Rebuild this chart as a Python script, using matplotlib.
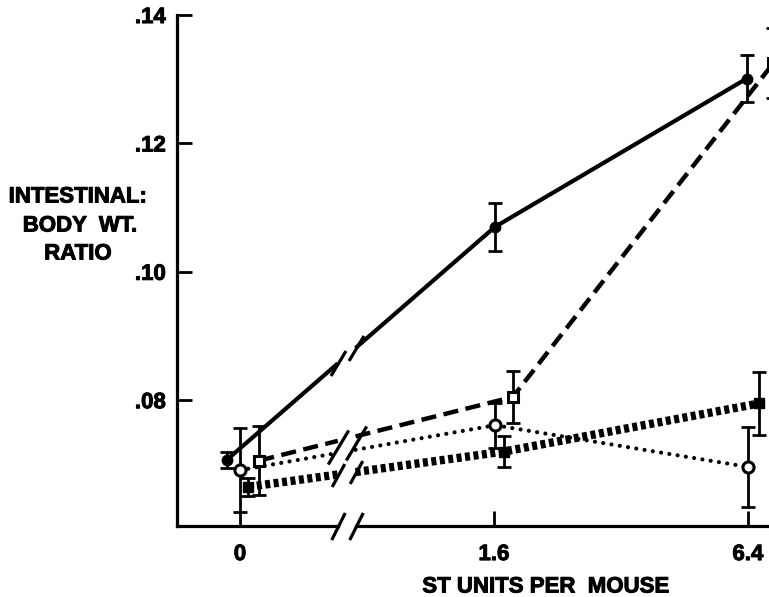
import numpy as np
import matplotlib
matplotlib.use("Agg")
from matplotlib import pyplot as plt
from matplotlib.path import Path
import matplotlib.patheffects as pe

plt.rcParams['font.family'] = ['Liberation Sans', 'DejaVu Sans']
plt.rcParams['font.weight'] = 'bold'

# dose axis: 0, 1.6, 6.4 ST units, drawn evenly spaced with a break after 0
dose_labels = ['0', '1.6', '6.4']
dose_pos = [0, 1, 2]

# each group is nudged a little sideways in the original so the bars don't overlap
solid_x = [-0.052, 1.004, 1.995]
solid_y = [0.0707, 0.1070, 0.1301]
solid_err = [0.0013, 0.0037, 0.0037]

dash_x = [0.076, 1.074, 2.1]
dash_y = [0.0706, 0.0805, 0.1325]
dash_err = [0.0054, 0.0041, 0.0055]

dot_x = [0.0, 1.004, 2.001]
dot_y = [0.0691, 0.0761, 0.0696]
dot_err = [0.0065, 0.0035, 0.0063]

thick_x = [0.033, 1.039, 2.045]
thick_y = [0.0665, 0.0720, 0.0795]
thick_err = [0.0014, 0.0024, 0.0049]

y_ticks = [0.08, 0.10, 0.12, 0.14]
y_ticklabels = ['.08', '.10', '.12', '.14']

GAP = (0.385, 0.455)
YMIN, YMAX = 0.0604, 0.14
FS = 16
ink = [pe.withStroke(linewidth=0.7, foreground='k')]

fig = plt.figure(figsize=(7.69, 5.97), dpi=100)
ax = fig.add_axes([0.2302, 0.1189, 0.7698, 0.8559])
ax.set_xlim(-0.248, 2.083)
ax.set_ylim(YMIN, YMAX)


def broken(x, y, **kw):
    x = np.asarray(x)
    y = np.asarray(y)
    y0 = np.interp(GAP[0], x, y)
    y1 = np.interp(GAP[1], x, y)
    ax.plot([x[0], GAP[0]], [y[0], y0], **kw)
    ax.plot(np.r_[GAP[1], x[1:]], np.r_[y1, y[1:]], **kw)
    return y0, y1


def slash(w):
    return Path([(-w, -1), (w, 1)], [Path.MOVETO, Path.LINETO])


def slashes(ys, size, w=0.6, **kw):
    ax.plot(GAP, ys, ls='none', marker=slash(w), ms=size, mew=2.3,
            mfc='none', mec='k', **kw)


err_kw = dict(fmt='none', ecolor='k', elinewidth=2, capsize=5, capthick=2, zorder=3)
ax.errorbar(solid_x, solid_y, yerr=solid_err, **err_kw)
ax.errorbar(dash_x, dash_y, yerr=dash_err, **err_kw)
ax.errorbar(dot_x, dot_y, yerr=dot_err, **err_kw)
ax.errorbar(thick_x, thick_y, yerr=thick_err, **err_kw)

s0, s1 = broken(solid_x, solid_y, color='k', lw=3, solid_capstyle='butt')
d0, d1 = broken(dash_x, dash_y, color='k', lw=3.2, ls=(0, (3.4, 1.7)), dash_capstyle='butt')
o0, o1 = broken(dot_x, dot_y, color='k', lw=3, ls=(0, (0.01, 2.0)), dash_capstyle='round')
t0, t1 = broken(thick_x, thick_y, color='k', lw=6, ls=(0, (0.6, 0.42)), dash_capstyle='butt')

slashes([s0, s1], 18)
slashes([(d0 + o0) / 2, (d1 + o1) / 2], 24.5)
slashes([t0, t1], 16.5, w=0.55)

ax.plot(solid_x, solid_y, 'o', color='k', ms=7.5, zorder=4)
ax.plot(dash_x, dash_y, 's', mfc='white', mec='k', mew=2.2, ms=7.5, zorder=4)
ax.plot(dot_x, dot_y, 'o', mfc='white', mec='k', mew=2.2, ms=8, zorder=4)
ax.plot(thick_x, thick_y, 's', color='k', ms=7.5, zorder=4)

# axes: left spine only, bottom line drawn by hand with the break
for side in ['top', 'right', 'bottom']:
    ax.spines[side].set_visible(False)
ax.spines['left'].set_linewidth(2.3)
ax.spines['left'].set_bounds(YMIN, YMAX)
xt = ax.get_xaxis_transform()
ax.plot([-0.248, GAP[0]], [0, 0], transform=xt, color='k', lw=2.3, clip_on=False)
ax.plot([GAP[1], 2.083], [0, 0], transform=xt, color='k', lw=2.3, clip_on=False)
ax.plot(GAP, [0, 0], transform=xt, ls='none', marker=slash(0.5), ms=19.5, mew=2.3,
        mfc='none', mec='k', clip_on=False)

ax.set_xticks(dose_pos, dose_labels)
ax.set_yticks(y_ticks, y_ticklabels)
ax.tick_params(axis='both', direction='in', length=11, width=2, labelsize=FS)
ax.tick_params(axis='x', pad=13)
ax.tick_params(axis='y', pad=8)
for lab in ax.get_xticklabels() + ax.get_yticklabels():
    lab.set_path_effects(ink)

txt_kw = dict(ha='center', va='center', fontsize=FS, path_effects=ink)
fig.text(78 / 769, 1 - 197 / 597, 'INTESTINAL:', **txt_kw)
fig.text(80 / 769, 1 - 226 / 597, 'BODY  WT.', **txt_kw)
fig.text(78 / 769, 1 - 254 / 597, 'RATIO', **txt_kw)
fig.text(546 / 769, 1 - 587 / 597, 'ST UNITS PER  MOUSE', **txt_kw)

fig.savefig('out.png', dpi=100)
